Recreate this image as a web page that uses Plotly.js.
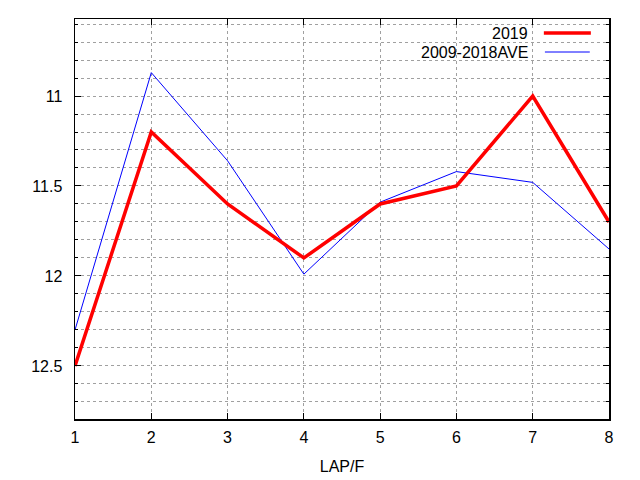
<!DOCTYPE html>
<html>
<head>
<meta charset="utf-8">
<script src="https://cdn.plot.ly/plotly-3.0.1.min.js"></script>
<style>
  html, body { margin: 0; padding: 0; background: #fff; }
  #myDiv { width: 640px; height: 480px; }
</style>
</head>
<body>
<div id="myDiv"></div>
<script>
var laps = [1, 2, 3, 4, 5, 6, 7, 8];
var times2019 = [12.5, 11.2, 11.6, 11.9, 11.6, 11.5, 11.0, 11.7];
var timesAve = [12.3, 10.87, 11.36, 11.99, 11.59, 11.42, 11.48, 11.85];
var seriesNames = ['2019', '2009-2018AVE'];
var yTickVals = [11, 11.5, 12, 12.5];
var yTickText = ['11', '11.5', '12', '12.5'];

var gridColor = '#a0a0a0';
var gridDash = '3px,3px';

var data2019 = {
    x: laps,
    y: times2019,
    type: 'scatter',
    mode: 'lines',
    name: seriesNames[0],
    line: { color: '#ff0000', width: 3.5 }
};

var dataAve = {
    x: laps,
    y: timesAve,
    type: 'scatter',
    mode: 'lines',
    name: seriesNames[1],
    line: { color: '#0000ff', width: 1 }
};

var layout = {
    width: 640,
    height: 480,
    margin: { l: 75, r: 31, t: 19, b: 61 },
    paper_bgcolor: '#ffffff',
    plot_bgcolor: '#ffffff',
    showlegend: false,
    font: { family: 'Liberation Sans, Arial, sans-serif', size: 16, color: '#000' },
    xaxis: {
        title: { text: 'LAP/F', standoff: 16, font: { size: 16 } },
        range: [1, 8],
        tickvals: laps,
        ticks: 'inside',
        ticklen: 6,
        tickcolor: '#000',
        showline: true,
        linecolor: '#000',
        linewidth: 1.5,
        mirror: 'ticks',
        showgrid: true,
        gridcolor: gridColor,
        griddash: gridDash,
        gridwidth: 1,
        zeroline: false,
        ticklabelstandoff: 3
    },
    yaxis: {
        range: [12.795, 10.572],
        autorange: false,
        tickvals: yTickVals,
        ticktext: yTickText,
        ticks: 'inside',
        ticklen: 6,
        tickcolor: '#000',
        showline: true,
        linecolor: '#000',
        linewidth: 1.5,
        mirror: 'ticks',
        showgrid: true,
        gridcolor: gridColor,
        griddash: gridDash,
        gridwidth: 1,
        zeroline: false,
        ticklabelstandoff: 8,
        minor: {
            dtick: 0.1,
            tick0: 0,
            ticks: 'inside',
            ticklen: 3,
            tickcolor: '#000',
            showgrid: true,
            gridcolor: gridColor,
            griddash: gridDash,
            gridwidth: 1
        }
    },
    shapes: [
        // key box that hides the grid behind the legend
        { type: 'rect', xref: 'paper', yref: 'paper', x0: 0.633, x1: 0.979, y0: 0.9025, y1: 0.997,
          fillcolor: '#ffffff', line: { width: 0 }, layer: 'between' },
        { type: 'line', xref: 'paper', yref: 'paper', x0: 0.878, x1: 0.966, y0: 0.965, y1: 0.965,
          line: { color: '#ff0000', width: 3.5 } },
        { type: 'line', xref: 'paper', yref: 'paper', x0: 0.880, x1: 0.964, y0: 0.9175, y1: 0.9175,
          line: { color: '#0000ff', width: 1 } }
    ],
    annotations: [
        { xref: 'paper', yref: 'paper', x: 0.852, y: 0.965, xanchor: 'right', yanchor: 'middle',
          text: seriesNames[0], showarrow: false, font: { size: 16 } },
        { xref: 'paper', yref: 'paper', x: 0.852, y: 0.9175, xanchor: 'right', yanchor: 'middle',
          text: seriesNames[1], showarrow: false, font: { size: 16 } }
    ]
};

Plotly.newPlot('myDiv', [dataAve, data2019], layout, { staticPlot: true });
</script>
</body>
</html>
